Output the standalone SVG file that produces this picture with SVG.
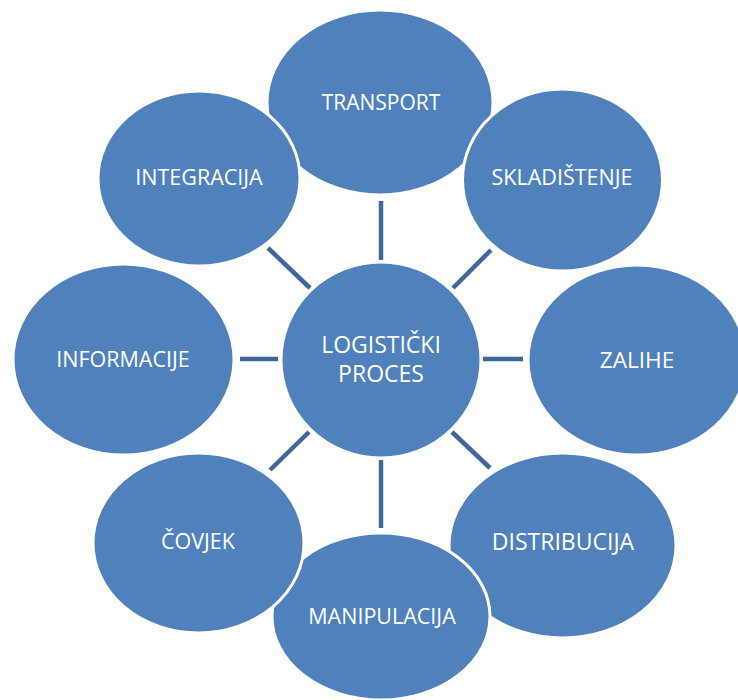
<svg xmlns="http://www.w3.org/2000/svg" width="738" height="700" viewBox="0 0 738 700">
<style>
.n ellipse{fill:#4F81BD;stroke:#FFFFFF;stroke-width:3}
.n text{fill:#FFFFFF;font-family:"Open Sans","Noto Sans","Liberation Sans",sans-serif;font-size:21.5px;text-anchor:middle}
.c line{stroke:#3E6899;stroke-width:4.5}
</style>
<rect width="738" height="700" fill="#FFFFFF"/>
<g id="connectors" class="c">
<line x1="381" y1="201" x2="381" y2="260"/>
<line x1="491" y1="250" x2="453" y2="288"/>
<line x1="483" y1="359" x2="523" y2="359"/>
<line x1="452" y1="432" x2="490" y2="468"/>
<line x1="381" y1="460" x2="381" y2="528"/>
<line x1="309" y1="432" x2="270" y2="470"/>
<line x1="240" y1="359" x2="278" y2="359"/>
<line x1="268" y1="248" x2="310" y2="288"/>
</g>
<g id="center" class="n">
<ellipse cx="381" cy="360" rx="100" ry="98"/>
<text x="381" y="353" style="font-size:23px">LOGISTIČKI</text>
<text x="381" y="382" style="font-size:23px">PROCES</text>
</g>
<g id="transport" class="n">
<ellipse cx="380" cy="102.5" rx="113" ry="92.5"/>
<text x="381" y="110" style="font-size:21px">TRANSPORT</text>
</g>
<g id="skladistenje" class="n">
<ellipse cx="562.5" cy="180" rx="100" ry="91"/>
<text x="562" y="185">SKLADIŠTENJE</text>
</g>
<g id="zalihe" class="n">
<ellipse cx="637" cy="360" rx="109" ry="95"/>
<text x="637" y="368" style="font-size:22.6px">ZALIHE</text>
</g>
<g id="distribucija" class="n">
<ellipse cx="562.5" cy="545.5" rx="113.5" ry="92.5"/>
<text x="563" y="550" style="font-size:23px">DISTRIBUCIJA</text>
</g>
<g id="manipulacija" class="n">
<ellipse cx="381" cy="616.5" rx="109" ry="83.5"/>
<text x="382" y="624">MANIPULACIJA</text>
</g>
<g id="covjek" class="n">
<ellipse cx="198.5" cy="543" rx="105.5" ry="90"/>
<text x="198" y="549">ČOVJEK</text>
</g>
<g id="informacije" class="n">
<ellipse cx="123.5" cy="359.5" rx="110.5" ry="95.5"/>
<text x="123" y="367">INFORMACIJE</text>
</g>
<g id="integracija" class="n">
<ellipse cx="199" cy="178.5" rx="101" ry="87.5"/>
<text x="199" y="185">INTEGRACIJA</text>
</g>
</svg>
